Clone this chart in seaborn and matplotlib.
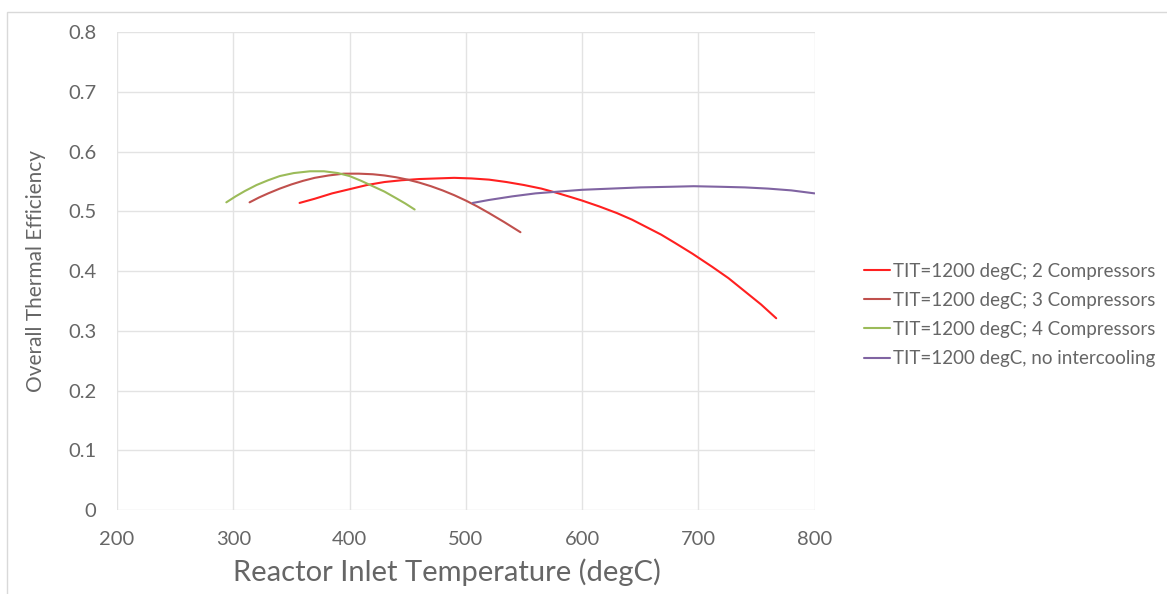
import matplotlib
import numpy as np
import pandas as pd
import seaborn as sns

matplotlib.use("Agg")
import matplotlib.pyplot as plt
from matplotlib.patches import Rectangle

# values
temp_2comp = [357, 370, 385, 400, 415, 430, 445, 460, 475, 490, 505, 520, 535, 550, 565,
              578, 590, 600, 615, 630, 643, 655, 668, 680, 695, 712, 726, 740, 754, 767]
eff_2comp = [0.514, 0.521, 0.530, 0.537, 0.544, 0.549, 0.552, 0.554, 0.555, 0.556, 0.555,
             0.553, 0.549, 0.544, 0.538, 0.531, 0.524, 0.518, 0.508, 0.497, 0.486, 0.474,
             0.461, 0.447, 0.429, 0.407, 0.388, 0.366, 0.344, 0.321]

temp_3comp = [314, 322, 330, 340, 350, 360, 370, 382, 395, 408, 420, 430, 440, 450, 460,
              470, 480, 490, 500, 510, 520, 533, 547]
eff_3comp = [0.515, 0.523, 0.530, 0.538, 0.545, 0.551, 0.556, 0.560, 0.563, 0.563, 0.562,
             0.560, 0.557, 0.553, 0.548, 0.542, 0.535, 0.527, 0.518, 0.508, 0.497, 0.482,
             0.465]

temp_4comp = [294, 302, 310, 320, 330, 340, 352, 366, 378, 390, 400, 410, 420, 430, 440,
              448, 456]
eff_4comp = [0.515, 0.525, 0.534, 0.544, 0.552, 0.559, 0.564, 0.567, 0.567, 0.564, 0.559,
             0.551, 0.542, 0.533, 0.522, 0.513, 0.503]

temp_noic = [506, 520, 540, 560, 580, 600, 625, 650, 675, 696, 720, 740, 760, 780, 800]
eff_noic = [0.514, 0.519, 0.525, 0.530, 0.533, 0.536, 0.538, 0.540, 0.541, 0.542, 0.541,
            0.540, 0.538, 0.535, 0.530]

series_names = [
    "TIT=1200 degC; 2 Compressors",
    "TIT=1200 degC; 3 Compressors",
    "TIT=1200 degC; 4 Compressors",
    "TIT=1200 degC, no intercooling",
]
series_colors = ["#FF2020", "#C0504D", "#9BBB59", "#8064A2"]

x_ticks = [200, 300, 400, 500, 600, 700, 800]
y_ticks = [0, 0.1, 0.2, 0.3, 0.4, 0.5, 0.6, 0.7, 0.8]
y_tick_labels = ["0", "0.1", "0.2", "0.3", "0.4", "0.5", "0.6", "0.7", "0.8"]

TEXT = "#666666"


def main() -> None:
    frames = []
    for name, t, e in zip(
        series_names,
        [temp_2comp, temp_3comp, temp_4comp, temp_noic],
        [eff_2comp, eff_3comp, eff_4comp, eff_noic],
    ):
        frames.append(pd.DataFrame({"temp": t, "eff": e, "series": name}))
    df = pd.concat(frames, ignore_index=True)

    sns.set_theme(style="whitegrid")
    plt.rcParams["font.family"] = ["Lato", "DejaVu Sans"]

    fig = plt.figure(figsize=(11.67, 5.94), dpi=100)
    ax = fig.add_axes([0.1003, 0.1414, 0.5977, 0.8046])

    sns.lineplot(
        data=df, x="temp", y="eff", hue="series", hue_order=series_names,
        palette=dict(zip(series_names, series_colors)), sort=False,
        linewidth=1.5, ax=ax,
    )

    ax.set_xlim(200, 800)
    ax.set_ylim(0, 0.8)
    ax.set_xticks(x_ticks)
    ax.set_yticks(y_ticks)
    ax.set_yticklabels(y_tick_labels)
    ax.grid(True, color="#e3e3e3", linewidth=1.0)
    for s in ax.spines.values():
        s.set_visible(False)
    ax.tick_params(axis="both", colors=TEXT, labelsize=14.5, length=0, pad=15)
    ax.set_xlabel("Reactor Inlet Temperature (degC)", fontsize=21, color=TEXT)
    ax.xaxis.set_label_coords(0.473, -0.102)
    ax.set_ylabel("Overall Thermal Efficiency", fontsize=15, color=TEXT, labelpad=16)

    handles, labels = ax.get_legend_handles_labels()
    ax.legend(
        handles, labels, loc="center left", bbox_to_anchor=(0.726, 0.47),
        bbox_transform=fig.transFigure, frameon=False, fontsize=13.5,
        labelcolor=TEXT, handlelength=1.4, handletextpad=0.15, labelspacing=0.65,
    )

    fig.patches.append(Rectangle((0.006, -0.01), 1.0, 0.99, transform=fig.transFigure,
                                 fill=False, edgecolor="#d9d9d9", linewidth=1.0))

    fig.savefig("out.png", dpi=100)
    plt.close(fig)


if __name__ == "__main__":
    main()
